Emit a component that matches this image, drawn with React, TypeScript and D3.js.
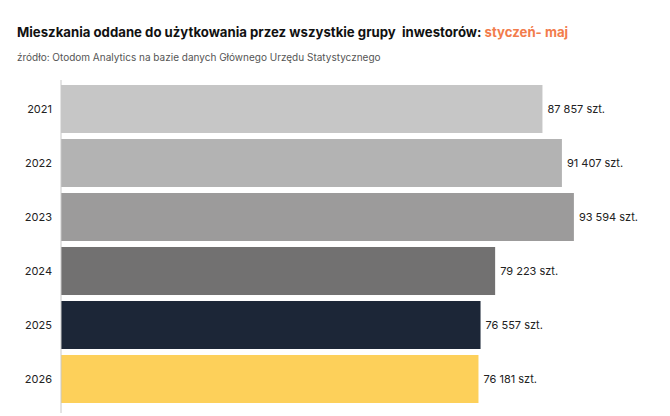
import { useEffect, useRef } from 'react';
import * as d3 from 'd3';

const years = ['2021', '2022', '2023', '2024', '2025', '2026'];
const values = [87857, 91407, 93594, 79223, 76557, 76181];
const barColors = ['#c6c6c6', '#b3b3b3', '#9c9b9b', '#727171', '#1c2637', '#fdd05a'];

const titleMain = 'Mieszkania oddane do użytkowania przez wszystkie grupy  inwestorów: ';
const titleAccent = 'styczeń- maj';
const sourceText = 'źródło: Otodom Analytics na bazie danych Głównego Urzędu Statystycznego';

const W = 670;
const H = 416;
const FONT = 'Inter, "Noto Sans", sans-serif';

export default function App() {
  const svgRef = useRef<SVGSVGElement>(null);

  useEffect(() => {
    if (!svgRef.current) return;
    const svg = d3.select(svgRef.current);
    svg.selectAll('*').remove();

    const x = d3.scaleLinear().domain([0, 100000]).range([61, 609]);
    const y = d3.scaleBand<string>().domain(years).range([85, 403]).paddingInner(0.111).paddingOuter(0);

    const fmt = d3.formatLocale({ thousands: ' ', grouping: [3], decimal: ',', currency: ['', ''] }).format(',d');

    // title
    const title = svg.append('text')
      .attr('x', 17)
      .attr('y', 37)
      .attr('font-family', FONT)
      .attr('font-size', 13.2)
      .attr('font-weight', 700)
      .attr('fill', '#111')
      .attr('xml:space', 'preserve')
      .style('white-space', 'pre');
    title.append('tspan').text(titleMain);
    title.append('tspan').attr('fill', '#f27c4c').text(titleAccent);

    svg.append('text')
      .attr('x', 17)
      .attr('y', 61)
      .attr('font-family', FONT)
      .attr('font-size', 10)
      .attr('fill', '#555')
      .text(sourceText);

    const g = svg.append('g');

    g.selectAll('rect.bar')
      .data(values)
      .join('rect')
      .attr('class', 'bar')
      .attr('x', x(0))
      .attr('y', (_, i) => y(years[i])!)
      .attr('width', d => x(d) - x(0))
      .attr('height', y.bandwidth())
      .attr('fill', (_, i) => barColors[i]);

    g.selectAll('text.val')
      .data(values)
      .join('text')
      .attr('class', 'val')
      .attr('x', d => x(d) + 5)
      .attr('y', (_, i) => y(years[i])! + y.bandwidth() / 2)
      .attr('dy', '0.35em')
      .attr('font-family', FONT)
      .attr('font-size', 11)
      .attr('fill', '#222')
      .text(d => `${fmt(d)} szt.`);

    g.selectAll('text.year')
      .data(years)
      .join('text')
      .attr('class', 'year')
      .attr('x', 52)
      .attr('y', d => y(d)! + y.bandwidth() / 2)
      .attr('dy', '0.35em')
      .attr('text-anchor', 'end')
      .attr('font-family', FONT)
      .attr('font-size', 11)
      .attr('fill', '#222')
      .text(d => d);

    // axis line
    svg.append('line')
      .attr('x1', 61)
      .attr('x2', 61)
      .attr('y1', 80)
      .attr('y2', 413)
      .attr('stroke', '#c8c8c8')
      .attr('stroke-width', 1);
  }, []);

  return (
    <div style={{ position: 'absolute', left: 0, top: 0 }}>
      <svg ref={svgRef} width={W} height={H} style={{ display: 'block', background: '#fff' }} />
    </div>
  );
}
